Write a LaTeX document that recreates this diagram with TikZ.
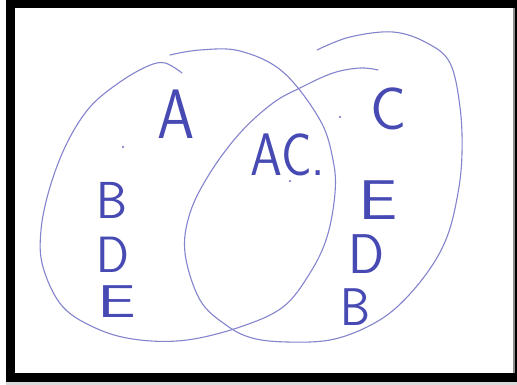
\documentclass[tikz,border=0pt]{standalone}
\usepackage{tikz}
\definecolor{ink}{RGB}{72,74,180}
\definecolor{pencil}{RGB}{132,132,206}

\begin{document}
\begin{tikzpicture}[x=1pt,y=1pt,
  ring/.style={draw=pencil,line width=1.1pt,line cap=round},
  letter/.style={text=ink,inner sep=0pt,font=\sffamily\fontsize{#1}{#1}\selectfont},
  speck/.style={fill=ink!80,draw=none}]
\useasboundingbox (0,0) rectangle (517,385);
% frame
\fill[black!15] (6,0) rectangle (517,4);
\fill[black] (6,3) rectangle (517,385);
\fill[white] (15,12) rectangle (514,377);
\fill[black!45] (513,12) rectangle (515,377);
% left set
\draw[ring] plot[smooth,tension=0.6] coordinates {(170,330) (200,335) (240,334) (283,313) (320,265) (333,225) (335,192) (327,148) (310,112) (283,78) (240,58) (187,45) (140,45) (100,55) (63,78) (43,118) (41,155) (50,198) (67,242) (90,278) (120,303) (148,319) (165,322) (182,312)};
% right set
\draw[ring] plot[smooth,tension=0.6] coordinates {(317,335) (350,348) (393,353) (427,342) (450,322) (460,278) (462,232) (458,192) (447,148) (427,112) (397,78) (367,58) (330,45) (287,43) (252,47) (226,60) (200,85) (185,132) (190,172) (210,212) (240,252) (273,282) (302,298) (333,312) (360,317) (378,315)};
% dots
\fill[speck] (123,238) circle (1.2);
\fill[speck] (340,268) circle (1.2);
\fill[speck] (290,204) circle (1.2);
% letters
\node[letter=70,xscale=0.85] (lA) at (176,271) {A};
\node[letter=52,xscale=0.95] (lB) at (112,185) {B};
\node[letter=51,xscale=0.95] (lD) at (113,130) {D};
\node[letter=46,xscale=1.5] (lE) at (117,83) {E};
\node[letter=60,xscale=0.85] (mAC) at (288,230) {AC.};
\node[letter=60] (rC) at (389,276) {C};
\node[letter=56,xscale=1.25] (rE) at (378,185) {E};
\node[letter=56,xscale=0.95] (rD) at (367,131) {D};
\node[letter=53,xscale=0.9] (rB) at (355,78) {B};
\end{tikzpicture}
\end{document}
